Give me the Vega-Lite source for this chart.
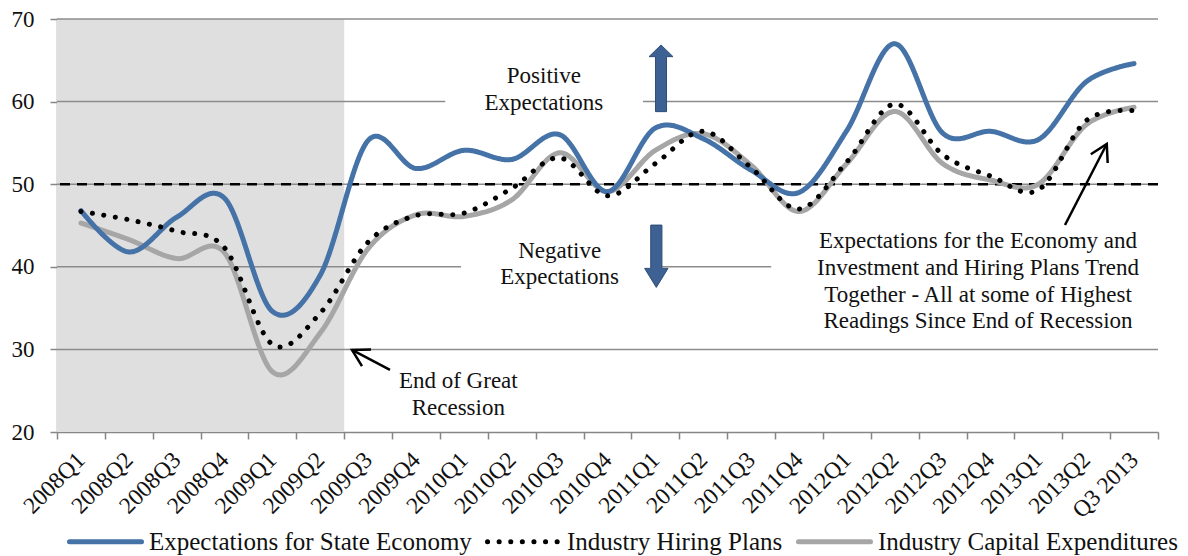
{
  "$schema": "https://vega.github.io/schema/vega-lite/v6.json",
  "width": 1101,
  "height": 413,
  "autosize": {"type": "none"},
  "padding": {"left": 57, "top": 19, "right": 30, "bottom": 124},
  "background": "white",
  "config": {
    "view": {"stroke": null},
    "font": "Liberation Serif, DejaVu Serif, serif",
    "axis": {"labelFont": "Liberation Serif, DejaVu Serif, serif", "labelColor": "#111111"},
    "legend": {"labelFont": "Liberation Serif, DejaVu Serif, serif"},
    "text": {"font": "Liberation Serif, DejaVu Serif, serif", "color": "#111111"}
  },
  "datasets": {
    "series": [
      {"quarter": "2008Q1", "qi": 1, "Expectations for State Economy": 46.8, "Industry Hiring Plans": 46.7, "Industry Capital Expenditures": 45.3},
      {"quarter": "2008Q2", "qi": 2, "Expectations for State Economy": 41.8, "Industry Hiring Plans": 45.7, "Industry Capital Expenditures": 43.3},
      {"quarter": "2008Q3", "qi": 3, "Expectations for State Economy": 46.0, "Industry Hiring Plans": 44.3, "Industry Capital Expenditures": 41.0},
      {"quarter": "2008Q4", "qi": 4, "Expectations for State Economy": 48.3, "Industry Hiring Plans": 42.3, "Industry Capital Expenditures": 41.7},
      {"quarter": "2009Q1", "qi": 5, "Expectations for State Economy": 34.6, "Industry Hiring Plans": 30.6, "Industry Capital Expenditures": 27.3},
      {"quarter": "2009Q2", "qi": 6, "Expectations for State Economy": 39.0, "Industry Hiring Plans": 34.4, "Industry Capital Expenditures": 32.0},
      {"quarter": "2009Q3", "qi": 7, "Expectations for State Economy": 55.3, "Industry Hiring Plans": 43.0, "Industry Capital Expenditures": 42.2},
      {"quarter": "2009Q4", "qi": 8, "Expectations for State Economy": 51.9, "Industry Hiring Plans": 46.2, "Industry Capital Expenditures": 46.3},
      {"quarter": "2010Q1", "qi": 9, "Expectations for State Economy": 54.1, "Industry Hiring Plans": 46.5, "Industry Capital Expenditures": 46.1},
      {"quarter": "2010Q2", "qi": 10, "Expectations for State Economy": 53.0, "Industry Hiring Plans": 49.5, "Industry Capital Expenditures": 48.1},
      {"quarter": "2010Q3", "qi": 11, "Expectations for State Economy": 56.0, "Industry Hiring Plans": 53.2, "Industry Capital Expenditures": 53.8},
      {"quarter": "2010Q4", "qi": 12, "Expectations for State Economy": 49.1, "Industry Hiring Plans": 48.6, "Industry Capital Expenditures": 49.1},
      {"quarter": "2011Q1", "qi": 13, "Expectations for State Economy": 56.8, "Industry Hiring Plans": 52.5, "Industry Capital Expenditures": 54.1},
      {"quarter": "2011Q2", "qi": 14, "Expectations for State Economy": 55.5, "Industry Hiring Plans": 56.4, "Industry Capital Expenditures": 56.1},
      {"quarter": "2011Q3", "qi": 15, "Expectations for State Economy": 51.7, "Industry Hiring Plans": 52.0, "Industry Capital Expenditures": 52.3},
      {"quarter": "2011Q4", "qi": 16, "Expectations for State Economy": 49.0, "Industry Hiring Plans": 47.0, "Industry Capital Expenditures": 46.7},
      {"quarter": "2012Q1", "qi": 17, "Expectations for State Economy": 56.5, "Industry Hiring Plans": 52.7, "Industry Capital Expenditures": 52.5},
      {"quarter": "2012Q2", "qi": 18, "Expectations for State Economy": 67.0, "Industry Hiring Plans": 59.7, "Industry Capital Expenditures": 58.8},
      {"quarter": "2012Q3", "qi": 19, "Expectations for State Economy": 56.2, "Industry Hiring Plans": 53.6, "Industry Capital Expenditures": 52.5},
      {"quarter": "2012Q4", "qi": 20, "Expectations for State Economy": 56.4, "Industry Hiring Plans": 51.0, "Industry Capital Expenditures": 50.5},
      {"quarter": "2013Q1", "qi": 21, "Expectations for State Economy": 55.4, "Industry Hiring Plans": 49.3, "Industry Capital Expenditures": 50.0},
      {"quarter": "2013Q2", "qi": 22, "Expectations for State Economy": 62.4, "Industry Hiring Plans": 57.7, "Industry Capital Expenditures": 57.2},
      {"quarter": "Q3 2013", "qi": 23, "Expectations for State Economy": 64.6, "Industry Hiring Plans": 58.9, "Industry Capital Expenditures": 59.3}
    ],
    "gridvals": [{"g": 30}, {"g": 40}, {"g": 50}, {"g": 60}, {"g": 70}]
  },
  "layer": [
    {
      "data": {"values": [{}]},
      "mark": {"type": "rect", "color": "#DFDFDF"},
      "encoding": {
        "x": {"datum": 0.5, "type": "quantitative", "scale": {"domain": [0.5, 23.5], "nice": false, "zero": false},
          "axis": {
            "values": [0.5,1.5,2.5,3.5,4.5,5.5,6.5,7.5,8.5,9.5,10.5,11.5,12.5,13.5,14.5,15.5,16.5,17.5,18.5,19.5,20.5,21.5,22.5,23.5],
            "labelExpr": "['2008Q1','2008Q2','2008Q3','2008Q4','2009Q1','2009Q2','2009Q3','2009Q4','2010Q1','2010Q2','2010Q3','2010Q4','2011Q1','2011Q2','2011Q3','2011Q4','2012Q1','2012Q2','2012Q3','2012Q4','2013Q1','2013Q2','Q3 2013',''][floor(datum.value)]",
            "labelOffset": 23.94,
            "labelAngle": -45,
            "labelAlign": "right",
            "labelBaseline": "middle",
            "labelFont": "Liberation Serif, DejaVu Serif, serif",
            "labelFontSize": 23.5,
            "labelPadding": 17,
            "labelOverlap": false,
            "labelFlush": false,
            "labelBound": false,
            "tickSize": 7,
            "tickColor": "#868686",
            "tickWidth": 1.5,
            "domainColor": "#868686",
            "domainWidth": 1.5,
            "grid": false,
            "title": null
          }
        },
        "x2": {"datum": 6.5},
        "y": {"datum": 20, "type": "quantitative", "scale": {"domain": [20, 70], "nice": false, "zero": false},
          "axis": {
            "values": [20, 30, 40, 50, 60, 70],
            "labelFont": "Liberation Serif, DejaVu Serif, serif",
            "labelFontSize": 23,
            "labelPadding": 16,
            "tickSize": 7,
            "tickColor": "#868686",
            "tickWidth": 1.5,
            "domainColor": "#868686",
            "domainWidth": 1.5,
            "grid": false,
            "title": null
          }
        },
        "y2": {"datum": 70}
      }
    },
    {
      "data": {"name": "gridvals"},
      "mark": {"type": "rule", "color": "#8C8C8C", "strokeWidth": 1.5},
      "encoding": {"y": {"field": "g", "type": "quantitative"}}
    },
    {
      "data": {"values": [{}]},
      "mark": {"type": "rect", "color": "white"},
      "encoding": {"x": {"datum": 8.61}, "x2": {"datum": 12.74}, "y": {"datum": 57}, "y2": {"datum": 66}}
    },
    {
      "data": {"values": [{}]},
      "mark": {"type": "rect", "color": "white"},
      "encoding": {"x": {"datum": 8.94}, "x2": {"datum": 13.12}, "y": {"datum": 35.5}, "y2": {"datum": 44}}
    },
    {
      "data": {"values": [{}]},
      "mark": {"type": "rect", "color": "white"},
      "encoding": {"x": {"datum": 15.42}, "x2": {"datum": 23.5}, "y": {"datum": 32.6}, "y2": {"datum": 45}}
    },
    {
      "data": {"values": [{}]},
      "mark": {"type": "rule", "color": "black", "strokeWidth": 2.5, "strokeDash": [10, 7]},
      "encoding": {"y": {"datum": 50}}
    },
    {
      "data": {"name": "series"},
      "transform": [
        {"fold": ["Industry Capital Expenditures", "Expectations for State Economy", "Industry Hiring Plans"], "as": ["series", "value"]}
      ],
      "mark": {"type": "line", "interpolate": "cardinal", "strokeWidth": 5, "strokeCap": "round", "strokeJoin": "round"},
      "encoding": {
        "x": {"field": "qi", "type": "quantitative"},
        "y": {"field": "value", "type": "quantitative"},
        "color": {
          "field": "series", "type": "nominal",
          "scale": {"domain": ["Expectations for State Economy", "Industry Hiring Plans", "Industry Capital Expenditures"], "range": ["#4572A7", "#000000", "#A6A6A6"]},
          "legend": {
            "orient": "none", "legendX": 10, "legendY": 484, "direction": "horizontal", "title": null,
            "symbolType": "stroke", "symbolSize": 5184, "symbolStrokeWidth": 5,
            "labelFontSize": 25, "labelFont": "Liberation Serif, DejaVu Serif, serif", "labelColor": "#111111", "labelLimit": 600,
            "columnPadding": 5, "labelOffset": 5,
            "encode": {"symbols": {"update": {"strokeCap": {"value": "round"}}}}
          }
        },
        "strokeDash": {
          "field": "series", "type": "nominal",
          "scale": {"domain": ["Expectations for State Economy", "Industry Hiring Plans", "Industry Capital Expenditures"], "range": [[1, 0], [0.1, 11.5], [1, 0]]}
        }
      }
    },
    {
      "data": {"values": [{}]},
      "mark": {"type": "point", "shape": "M 0 -1 L 0.36 -0.65 L 0.165 -0.65 L 0.165 1 L -0.165 1 L -0.165 -0.65 L -0.36 -0.65 Z", "filled": true, "fill": "#3D6193", "stroke": "#2E4D78", "strokeWidth": 1, "size": 4444, "opacity": 1},
      "encoding": {"x": {"datum": 13.118}, "y": {"datum": 62.82}}
    },
    {
      "data": {"values": [{}]},
      "mark": {"type": "point", "shape": "M 0 1 L 0.375 0.39 L 0.18 0.39 L 0.18 -1 L -0.18 -1 L -0.18 0.39 L -0.375 0.39 Z", "filled": true, "fill": "#3D6193", "stroke": "#2E4D78", "strokeWidth": 1, "size": 3881, "opacity": 1},
      "encoding": {"x": {"datum": 13.02}, "y": {"datum": 41.28}}
    },
    {
      "data": {"values": [{}]},
      "mark": {"type": "rule", "color": "black", "strokeWidth": 2.5},
      "encoding": {"x": {"datum": 7.456}, "y": {"datum": 27.51}, "x2": {"datum": 6.663}, "y2": {"datum": 29.93}}
    },
    {
      "data": {"values": [{}]},
      "mark": {"type": "point", "shape": "M -0.5 0.866 L 0 0 L 0.5 0.866", "filled": false, "stroke": "black", "strokeWidth": 2.5, "size": 1444, "angle": -61.6, "opacity": 1},
      "encoding": {"x": {"datum": 6.663}, "y": {"datum": 29.93}}
    },
    {
      "data": {"values": [{}]},
      "mark": {"type": "rule", "color": "black", "strokeWidth": 2.5},
      "encoding": {"x": {"datum": 21.557}, "y": {"datum": 45.06}, "x2": {"datum": 22.43}, "y2": {"datum": 54.87}}
    },
    {
      "data": {"values": [{}]},
      "mark": {"type": "point", "shape": "M -0.5 0.866 L 0 0 L 0.5 0.866", "filled": false, "stroke": "black", "strokeWidth": 2.5, "size": 1444, "angle": 27.3, "opacity": 1},
      "encoding": {"x": {"datum": 22.43}, "y": {"datum": 54.87}}
    },
    {
      "data": {"values": [{}]},
      "mark": {"type": "text", "text": ["Positive", "Expectations"], "font": "Liberation Serif, DejaVu Serif, serif", "fontSize": 23, "lineHeight": 26.7, "align": "center", "baseline": "alphabetic"},
      "encoding": {"x": {"datum": 10.67}, "y": {"datum": 62.22}}
    },
    {
      "data": {"values": [{}]},
      "mark": {"type": "text", "text": ["Negative", "Expectations"], "font": "Liberation Serif, DejaVu Serif, serif", "fontSize": 23, "lineHeight": 26.7, "align": "center", "baseline": "alphabetic"},
      "encoding": {"x": {"datum": 11.0}, "y": {"datum": 41.1}}
    },
    {
      "data": {"values": [{}]},
      "mark": {"type": "text", "text": ["End of Great", "Recession"], "font": "Liberation Serif, DejaVu Serif, serif", "fontSize": 23, "lineHeight": 26.7, "align": "center", "baseline": "alphabetic"},
      "encoding": {"x": {"datum": 8.883}, "y": {"datum": 25.29}}
    },
    {
      "data": {"values": [{}]},
      "mark": {"type": "text", "text": ["Expectations for the Economy and", "Investment and Hiring Plans Trend", "Together - All at some of Highest", "Readings Since End of Recession"], "font": "Liberation Serif, DejaVu Serif, serif", "fontSize": 23, "lineHeight": 26.7, "align": "center", "baseline": "alphabetic"},
      "encoding": {"x": {"datum": 19.74}, "y": {"datum": 42.24}}
    }
  ]
}
